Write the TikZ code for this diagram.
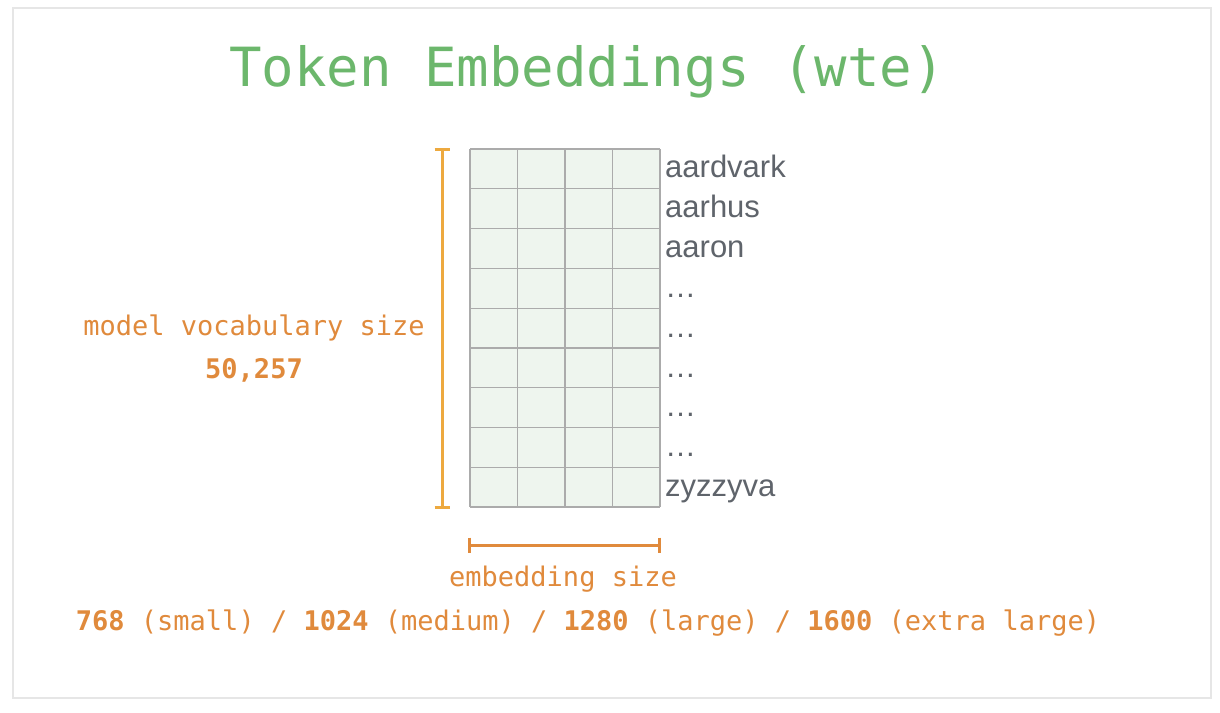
\documentclass[tikz,border=0pt]{standalone}
\usepackage{fontspec}
\setmonofont{DejaVu Sans Mono}
\setsansfont{Liberation Sans}
\definecolor{ttlgreen}{HTML}{6CB76C}
\definecolor{orng}{HTML}{E08A3C}
\definecolor{ylw}{HTML}{EDA93F}
\definecolor{cellfill}{HTML}{EEF5EE}
\definecolor{cellline}{HTML}{ABABAB}
\definecolor{wordgray}{HTML}{5F646B}
\definecolor{frame}{HTML}{E6E6E6}
\tikzset{
  mono/.style={font=\ttfamily\fontsize{27}{27}\selectfont, text=orng, inner sep=0pt},
  word/.style={font=\sffamily\fontsize{31}{31}\selectfont, text=wordgray, anchor=base west, inner sep=0pt},
  dots/.style={font=\sffamily\fontsize{31}{31}\selectfont, text=wordgray, anchor=base west, inner sep=0pt},
  dimbar/.style={line width=3pt},
}
\begin{document}
\begin{tikzpicture}[x=1pt,y=-1pt]
\useasboundingbox (0,0) rectangle (1220,712);
\fill[white] (0,0) rectangle (1220,712);
\draw[frame, line width=2pt] (13,8) rectangle (1211,698);
% title
\node[font=\ttfamily\fontsize{54}{54}\selectfont, text=ttlgreen, inner sep=0pt] (title) at (587,72) {Token Embeddings (wte)};
% grid
\fill[cellfill] (470,149) rectangle (660,507);
\foreach \x in {470,517.5,565,612.5,660} \draw[cellline, line width=1.2pt] (\x,149) -- (\x,507);
\foreach \y in {149,188.8,228.6,268.3,308.1,347.9,387.7,427.4,467.2,507} \draw[cellline, line width=1.2pt] (470,\y) -- (660,\y);
% words
\node[word] (w1) at (665,177) {aardvark};
\node[word] (w2) at (665,217) {aarhus};
\node[word] (w3) at (665,257) {aaron};
\node[dots] (d1) at (665,297) {\dots};
\node[dots] (d2) at (665,337) {\dots};
\node[dots] (d3) at (665,377) {\dots};
\node[dots] (d4) at (665,416) {\dots};
\node[dots] (d5) at (665,456) {\dots};
\node[word] (w9) at (665,496) {zyzzyva};
% vertical dimension bar
\coordinate (vt) at (442,149);
\coordinate (vb) at (442,507);
\draw[ylw, dimbar] (vt) -- (vb);
\draw[ylw, dimbar] (434.5,149) -- (449.5,149);
\draw[ylw, dimbar] (434.5,507) -- (449.5,507);
% horizontal dimension bar
\coordinate (hl) at (469,545);
\coordinate (hr) at (659,545);
\draw[orng, dimbar] (hl) -- (hr);
\draw[orng, dimbar] (469,537.5) -- (469,552.5);
\draw[orng, dimbar] (659,537.5) -- (659,552.5);
% labels
\node[mono] (vocab) at (254,328) {model vocabulary size};
\node[mono, font=\ttfamily\bfseries\fontsize{27}{27}\selectfont] (vnum) at (254,370) {50,257};
\node[mono] (emb) at (563,579) {embedding size};
\node[mono] (sizes) at (588,623) {\textbf{768} (small) / \textbf{1024} (medium) / \textbf{1280} (large) / \textbf{1600} (extra large)};
\end{tikzpicture}
\end{document}
